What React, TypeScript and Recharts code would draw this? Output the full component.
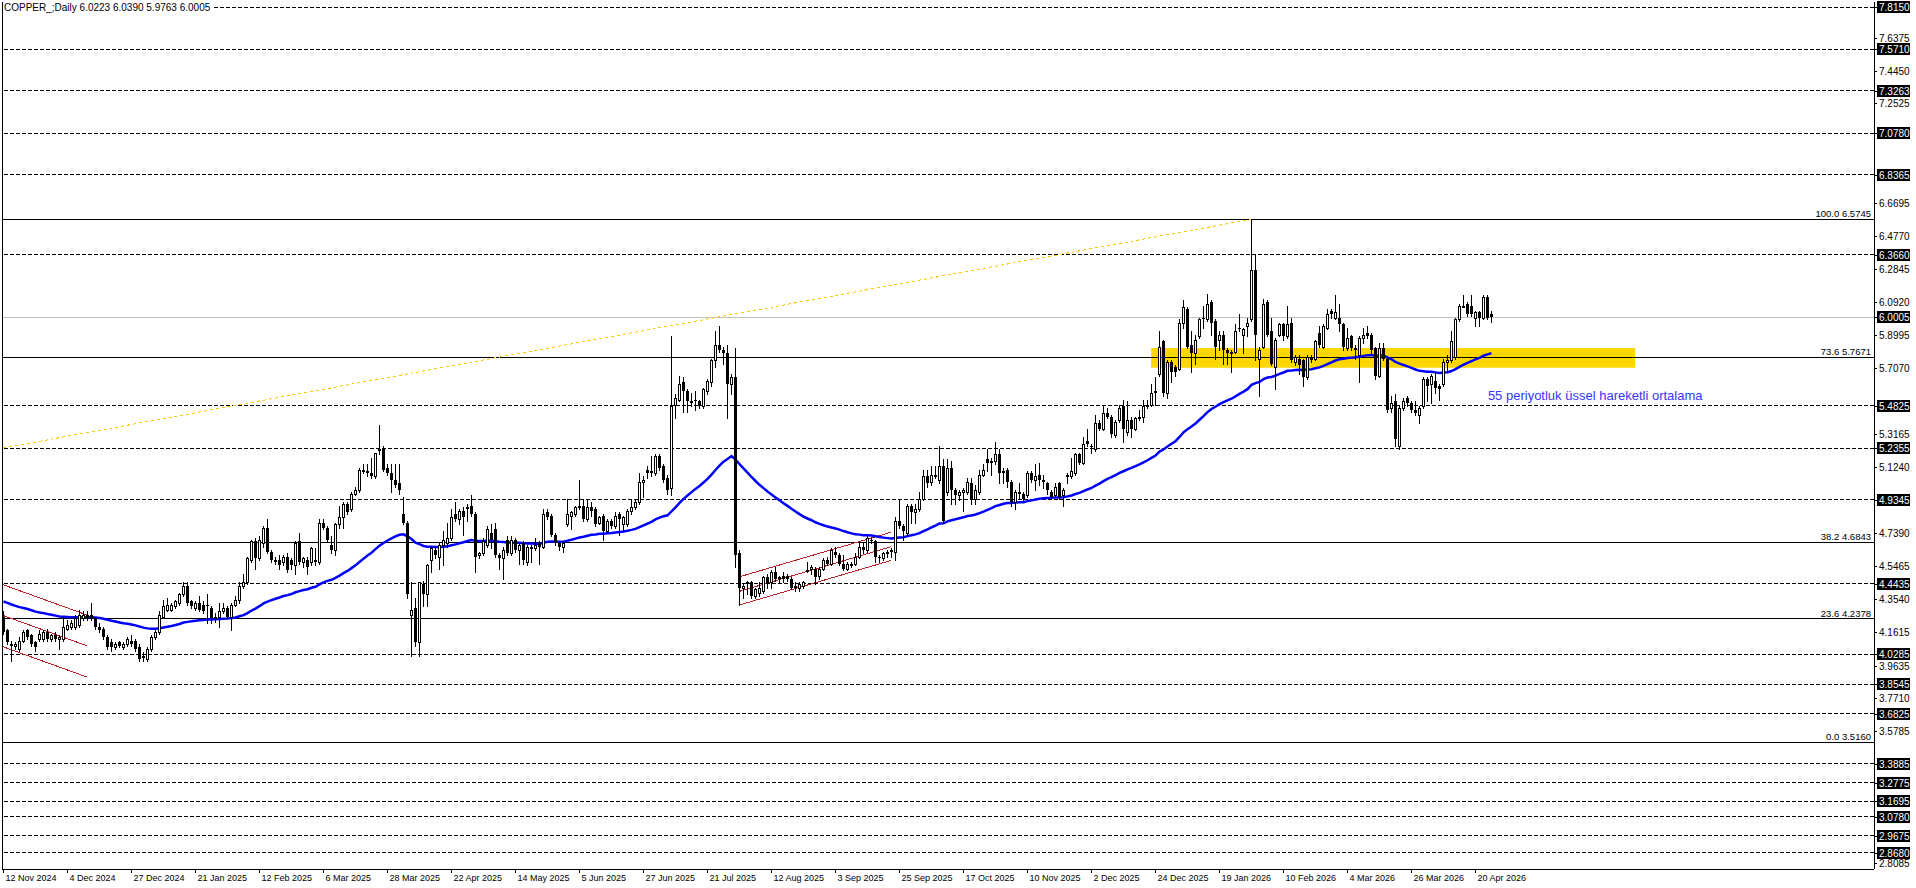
import React from 'react';
import {
  ComposedChart, XAxis, YAxis, Line, Scatter,
  ReferenceLine, ReferenceArea, ReferenceDot,
} from 'recharts';

// ---------- data ----------
const symbolName = 'COPPER_';
const timeframe = 'Daily';

const dateLabels = [
  '12 Nov 2024', '4 Dec 2024', '27 Dec 2024', '21 Jan 2025', '12 Feb 2025', '6 Mar 2025',
  '28 Mar 2025', '22 Apr 2025', '14 May 2025', '5 Jun 2025', '27 Jun 2025', '21 Jul 2025',
  '12 Aug 2025', '3 Sep 2025', '25 Sep 2025', '17 Oct 2025', '10 Nov 2025', '2 Dec 2025',
  '24 Dec 2025', '19 Jan 2026', '10 Feb 2026', '4 Mar 2026', '26 Mar 2026', '20 Apr 2026',
];
const dateTickBars = [0, 16, 32, 48, 64, 80, 96, 112, 128, 144, 160, 176, 192, 208, 224, 240, 256, 272, 288, 304, 320, 336, 352, 368];

type OHLC = [number, number, number, number];

// open, high, low, close
const ohlcNov24Feb25: OHLC[] = [
  [4.25,4.28,4.15,4.16],[4.17,4.18,4.09,4.10],[4.09,4.11,3.99,4.08],[4.08,4.10,4.06,4.09],
  [4.06,4.13,4.05,4.11],[4.11,4.17,4.10,4.16],[4.17,4.18,4.12,4.13],[4.14,4.15,4.08,4.09],
  [4.10,4.11,4.05,4.07],[4.12,4.17,4.11,4.15],[4.12,4.17,4.11,4.16],[4.16,4.18,4.11,4.12],
  [4.12,4.15,4.11,4.14],[4.14,4.16,4.11,4.12],[4.12,4.14,4.06,4.13],[4.12,4.25,4.11,4.19],
  [4.18,4.23,4.17,4.20],[4.19,4.23,4.18,4.21],[4.19,4.26,4.18,4.24],[4.20,4.29,4.19,4.26],
  [4.24,4.28,4.23,4.26],[4.26,4.28,4.23,4.24],[4.26,4.33,4.23,4.24],[4.24,4.25,4.18,4.19],
  [4.19,4.21,4.16,4.17],[4.18,4.19,4.12,4.13],[4.13,4.14,4.06,4.07],[4.10,4.12,4.05,4.07],
  [4.07,4.10,4.06,4.09],[4.10,4.11,4.07,4.08],[4.07,4.10,4.06,4.09],[4.09,4.13,4.08,4.12],
  [4.11,4.14,4.08,4.09],[4.11,4.12,4.05,4.06],[4.07,4.09,3.99,4.00],[4.02,4.04,3.99,4.02],
  [4.00,4.07,3.99,4.06],[4.06,4.14,4.05,4.13],[4.13,4.17,4.12,4.16],[4.16,4.28,4.15,4.26],
  [4.25,4.35,4.24,4.31],[4.29,4.36,4.28,4.32],[4.29,4.33,4.28,4.32],[4.31,4.35,4.30,4.34],
  [4.33,4.39,4.32,4.38],[4.38,4.45,4.37,4.43],[4.43,4.45,4.32,4.33],[4.34,4.35,4.30,4.31],
  [4.30,4.34,4.29,4.33],[4.33,4.37,4.28,4.29],[4.32,4.34,4.27,4.28],[4.32,4.38,4.21,4.31],
  [4.30,4.31,4.21,4.24],[4.25,4.27,4.22,4.25],[4.25,4.33,4.19,4.28],[4.28,4.33,4.27,4.30],
  [4.30,4.31,4.24,4.25],[4.25,4.33,4.17,4.32],[4.32,4.37,4.31,4.35],[4.35,4.45,4.33,4.43],
  [4.43,4.50,4.42,4.45],[4.45,4.60,4.44,4.59],[4.58,4.70,4.57,4.69],[4.69,4.71,4.53,4.59],
];
const ohlcFeb25May25: OHLC[] = [
  [4.59,4.72,4.58,4.70],[4.68,4.78,4.66,4.77],[4.77,4.82,4.62,4.63],[4.63,4.64,4.57,4.58],
  [4.58,4.60,4.56,4.57],[4.58,4.61,4.53,4.55],[4.57,4.61,4.55,4.60],[4.60,4.62,4.51,4.52],
  [4.58,4.59,4.53,4.55],[4.55,4.69,4.50,4.68],[4.69,4.74,4.56,4.57],[4.57,4.60,4.54,4.59],
  [4.58,4.60,4.50,4.54],[4.57,4.66,4.55,4.65],[4.58,4.65,4.55,4.58],[4.57,4.82,4.56,4.80],
  [4.80,4.82,4.76,4.77],[4.77,4.78,4.69,4.70],[4.67,4.72,4.62,4.64],[4.64,4.80,4.61,4.79],
  [4.79,4.90,4.77,4.83],[4.83,4.92,4.77,4.91],[4.91,4.92,4.85,4.86],[4.88,4.98,4.87,4.97],
  [4.97,5.01,4.96,4.99],[4.99,5.12,4.98,5.11],[5.10,5.14,5.09,5.11],[5.10,5.14,5.07,5.09],
  [5.09,5.18,5.06,5.07],[5.07,5.21,5.06,5.21],[5.23,5.37,5.20,5.22],[5.23,5.25,5.10,5.11],
  [5.12,5.14,5.08,5.09],[5.09,5.14,4.98,5.05],[5.05,5.14,5.01,5.02],[5.03,5.14,4.97,4.99],
  [4.85,4.95,4.79,4.80],[4.80,4.81,4.36,4.38],[4.26,4.45,4.02,4.29],[4.30,4.36,4.08,4.10],
  [4.10,4.45,4.02,4.45],[4.44,4.46,4.31,4.38],[4.38,4.56,4.31,4.55],[4.58,4.66,4.51,4.65],
  [4.64,4.66,4.59,4.61],[4.60,4.68,4.53,4.67],[4.67,4.75,4.55,4.70],[4.68,4.80,4.66,4.71],
  [4.71,4.88,4.70,4.83],[4.85,4.92,4.81,4.82],[4.82,4.88,4.79,4.87],[4.87,4.89,4.73,4.83],
  [4.89,4.91,4.81,4.89],[4.90,4.96,4.84,4.85],[4.85,4.86,4.51,4.60],[4.61,4.63,4.59,4.62],
  [4.62,4.71,4.61,4.69],[4.67,4.78,4.66,4.76],[4.74,4.79,4.65,4.70],[4.76,4.80,4.60,4.61],
  [4.61,4.62,4.53,4.59],[4.59,4.66,4.47,4.64],[4.70,4.72,4.61,4.62],[4.62,4.72,4.61,4.70],
];
const ohlcMay25Aug25: OHLC[] = [
  [4.70,4.71,4.63,4.64],[4.64,4.68,4.56,4.67],[4.68,4.69,4.56,4.58],[4.57,4.67,4.55,4.66],
  [4.65,4.67,4.57,4.66],[4.65,4.71,4.64,4.67],[4.68,4.69,4.56,4.66],[4.66,4.88,4.65,4.85],
  [4.86,4.88,4.82,4.83],[4.84,4.85,4.72,4.73],[4.73,4.74,4.67,4.68],[4.68,4.69,4.64,4.66],
  [4.66,4.69,4.63,4.68],[4.79,4.94,4.78,4.85],[4.84,4.87,4.76,4.86],[4.85,4.90,4.84,4.89],
  [4.89,5.05,4.88,4.90],[4.90,4.94,4.81,4.82],[4.82,4.93,4.81,4.89],[4.89,4.92,4.84,4.87],
  [4.88,4.89,4.78,4.79],[4.80,4.84,4.79,4.83],[4.84,4.85,4.70,4.75],[4.75,4.82,4.74,4.81],
  [4.81,4.82,4.77,4.78],[4.78,4.86,4.77,4.84],[4.85,4.86,4.73,4.82],[4.79,4.84,4.75,4.83],
  [4.79,4.88,4.78,4.87],[4.87,4.94,4.85,4.89],[4.89,4.94,4.88,4.92],[4.92,5.09,4.91,5.04],
  [5.04,5.07,4.95,5.05],[5.11,5.13,5.06,5.09],[5.10,5.19,5.07,5.09],[5.09,5.20,5.08,5.19],
  [5.19,5.20,5.11,5.12],[5.13,5.14,5.04,5.05],[5.06,5.08,4.97,4.99],[5.00,5.89,4.96,5.48],
  [5.49,5.55,5.41,5.53],[5.52,5.66,5.51,5.61],[5.62,5.65,5.45,5.57],[5.57,5.58,5.45,5.51],
  [5.51,5.56,5.48,5.51],[5.52,5.57,5.46,5.51],[5.51,5.52,5.47,5.48],[5.48,5.59,5.47,5.58],
  [5.57,5.64,5.55,5.63],[5.62,5.76,5.60,5.75],[5.75,5.92,5.71,5.84],[5.84,5.95,5.80,5.81],
  [5.81,5.83,5.73,5.79],[5.79,5.84,5.41,5.61],[5.61,5.67,5.55,5.65],[5.65,5.82,4.54,4.61],
  [4.62,4.64,4.32,4.42],[4.42,4.44,4.36,4.43],[4.45,4.46,4.38,4.44],[4.45,4.46,4.36,4.37],
  [4.37,4.42,4.36,4.41],[4.39,4.45,4.37,4.42],[4.40,4.49,4.39,4.48],[4.48,4.50,4.42,4.44],
];
const ohlcAug25Nov25: OHLC[] = [
  [4.45,4.52,4.42,4.51],[4.51,4.54,4.46,4.47],[4.48,4.49,4.45,4.47],[4.49,4.51,4.45,4.47],
  [4.49,4.50,4.46,4.47],[4.47,4.48,4.41,4.42],[4.43,4.45,4.40,4.43],[4.42,4.45,4.40,4.44],
  [4.43,4.46,4.42,4.45],[4.52,4.57,4.51,4.52],[4.53,4.55,4.50,4.54],[4.53,4.54,4.44,4.48],
  [4.49,4.54,4.47,4.53],[4.53,4.59,4.52,4.58],[4.58,4.60,4.55,4.56],[4.56,4.65,4.55,4.64],
  [4.63,4.66,4.60,4.61],[4.61,4.62,4.55,4.56],[4.56,4.61,4.52,4.53],[4.53,4.57,4.52,4.56],
  [4.56,4.57,4.54,4.56],[4.56,4.62,4.55,4.60],[4.60,4.68,4.59,4.66],[4.66,4.68,4.62,4.64],
  [4.64,4.72,4.63,4.71],[4.70,4.71,4.68,4.69],[4.69,4.70,4.57,4.60],[4.60,4.61,4.57,4.59],
  [4.59,4.63,4.58,4.62],[4.62,4.64,4.60,4.63],[4.64,4.65,4.60,4.64],[4.63,4.83,4.58,4.81],
  [4.81,4.93,4.77,4.78],[4.78,4.79,4.70,4.75],[4.74,4.91,4.73,4.90],[4.90,4.91,4.80,4.86],
  [4.86,4.91,4.80,4.88],[4.88,4.98,4.87,4.94],[4.94,5.11,4.93,5.07],[5.07,5.11,5.01,5.03],
  [5.04,5.13,5.02,5.08],[5.07,5.13,5.06,5.08],[5.05,5.25,5.03,5.13],[5.13,5.17,4.80,4.81],
  [4.98,5.17,4.96,5.12],[5.12,5.16,4.91,4.99],[4.99,5.00,4.91,4.96],[4.96,4.99,4.93,4.98],
  [4.98,5.00,4.87,4.99],[4.98,5.06,4.97,5.04],[5.03,5.06,4.91,4.94],[4.94,5.02,4.91,4.99],
  [4.98,5.11,4.97,5.08],[5.08,5.14,5.07,5.11],[5.17,5.23,5.10,5.15],[5.16,5.18,5.08,5.16],
  [5.16,5.27,5.14,5.20],[5.20,5.23,5.03,5.09],[5.10,5.12,5.03,5.09],[5.11,5.12,5.01,5.04],
  [5.04,5.05,4.90,4.92],[4.92,4.99,4.88,4.98],[4.98,5.03,4.94,4.97],[4.97,4.98,4.93,4.94],
];
const ohlcNov25Feb26: OHLC[] = [
  [4.96,5.10,4.95,5.09],[5.09,5.10,5.04,5.05],[5.05,5.14,4.99,5.07],[5.08,5.15,5.02,5.05],
  [5.05,5.08,5.00,5.04],[5.03,5.04,4.97,4.99],[4.98,4.99,4.94,4.95],[4.96,5.03,4.95,5.01],
  [5.03,5.04,4.94,4.95],[4.96,5.00,4.90,4.99],[5.08,5.09,5.03,5.08],[5.07,5.18,5.06,5.10],
  [5.09,5.21,5.08,5.20],[5.20,5.21,5.14,5.15],[5.15,5.30,5.14,5.26],[5.28,5.35,5.25,5.26],
  [5.25,5.26,5.21,5.24],[5.23,5.43,5.22,5.38],[5.38,5.40,5.34,5.35],[5.35,5.48,5.34,5.44],
  [5.44,5.47,5.41,5.42],[5.42,5.43,5.30,5.32],[5.31,5.40,5.30,5.39],[5.40,5.49,5.39,5.47],
  [5.48,5.52,5.27,5.35],[5.33,5.51,5.31,5.40],[5.40,5.42,5.30,5.35],[5.35,5.42,5.34,5.41],
  [5.41,5.46,5.40,5.42],[5.42,5.52,5.39,5.48],[5.48,5.52,5.47,5.49],[5.49,5.61,5.48,5.56],
  [5.57,5.65,5.49,5.56],[5.67,5.92,5.66,5.83],[5.86,5.87,5.54,5.56],[5.56,5.75,5.53,5.74],
  [5.74,5.75,5.62,5.68],[5.71,5.72,5.66,5.68],[5.70,5.99,5.69,5.97],[5.97,6.10,5.94,6.06],
  [6.05,6.06,5.82,5.83],[5.84,5.92,5.68,5.79],[5.79,5.90,5.73,5.87],[5.89,6.00,5.88,5.99],
  [6.00,6.07,5.94,5.99],[5.99,6.14,5.98,6.08],[6.09,6.10,5.90,5.97],[5.98,5.99,5.76,5.83],
  [5.87,5.92,5.81,5.90],[5.90,5.92,5.73,5.81],[5.81,5.82,5.73,5.79],[5.80,5.81,5.68,5.80],
  [5.80,5.96,5.79,5.92],[5.94,6.02,5.92,5.93],[5.90,5.94,5.79,5.93],[5.95,6.00,5.89,5.97],
  [5.99,6.5745,5.98,6.28],[6.28,6.37,5.75,5.90],[5.76,5.83,5.54,5.81],[5.83,6.11,5.82,6.08],
  [6.09,6.10,5.89,5.90],[5.92,6.00,5.72,5.73],[5.71,5.88,5.58,5.87],[5.90,5.97,5.89,5.96],
];
const ohlcFeb26Apr26: OHLC[] = [
  [5.96,5.97,5.87,5.89],[5.89,6.07,5.88,5.96],[5.97,6.00,5.74,5.75],[5.74,5.78,5.72,5.77],
  [5.76,5.78,5.67,5.72],[5.75,5.76,5.60,5.65],[5.65,5.78,5.64,5.77],[5.77,5.78,5.74,5.75],
  [5.76,5.87,5.75,5.86],[5.91,5.95,5.83,5.84],[5.83,5.96,5.82,5.95],[5.94,6.05,5.93,6.02],
  [6.04,6.05,6.00,6.02],[6.00,6.13,5.99,6.03],[6.00,6.08,5.92,5.96],[5.96,5.97,5.81,5.83],
  [5.82,5.94,5.81,5.88],[5.89,5.90,5.81,5.82],[5.82,5.84,5.76,5.82],[5.78,5.89,5.62,5.88],
  [5.88,5.94,5.85,5.90],[5.91,5.95,5.88,5.89],[5.90,5.91,5.79,5.81],[5.82,5.83,5.64,5.66],
  [5.66,5.85,5.65,5.82],[5.82,5.85,5.75,5.76],[5.76,5.77,5.45,5.46],[5.47,5.54,5.45,5.50],
  [5.51,5.55,5.25,5.29],[5.25,5.48,5.23,5.47],[5.47,5.53,5.46,5.51],[5.53,5.54,5.48,5.50],
  [5.50,5.51,5.45,5.46],[5.46,5.51,5.43,5.44],[5.43,5.48,5.38,5.47],[5.48,5.65,5.47,5.64],
  [5.64,5.65,5.51,5.60],[5.61,5.67,5.50,5.66],[5.63,5.68,5.56,5.59],[5.60,5.61,5.52,5.58],
  [5.61,5.76,5.60,5.74],[5.74,5.78,5.68,5.75],[5.75,5.92,5.74,5.86],[5.77,6.00,5.76,5.99],
  [5.99,6.08,5.98,6.07],[6.07,6.13,6.06,6.07],[6.08,6.09,6.01,6.02],[6.07,6.13,6.01,6.02],
  [6.00,6.04,5.95,6.03],[6.03,6.04,5.95,6.00],[6.00,6.13,5.99,6.12],[6.12,6.13,5.99,6.00],
  [6.0223,6.0390,5.9763,6.0005],
];

// price axis (plain labels)
const axisPrices = [7.6375, 7.4450, 7.2525, 6.6695, 6.4770, 6.2845, 6.0920, 5.8995, 5.7070,
  5.3165, 5.1240, 4.7390, 4.5465, 4.3540, 4.1615, 3.9635, 3.7710, 3.5785, 2.8085];
// horizontal (dashed) levels, labelled on the axis
const levelPrices = [7.8150, 7.5710, 7.3263, 7.0780, 6.8365, 6.3660, 5.4825, 5.2355, 4.9345, 4.4435,
  4.0285, 3.8545, 3.6825, 3.3885, 3.2775, 3.1695, 3.0780, 2.9675, 2.8680];
const bidPrice = 6.0005;

// fibonacci retracement
const fibRatios = ['100.0', '73.6', '38.2', '23.6', '0.0'];
const fibPrices = [6.5745, 5.7671, 4.6843, 4.2378, 3.5160];
const fibTrendBars = [-3, 312];
const fibTrendPrices = [5.2242, 6.5745];

// yellow zone
const zoneBars = [286.9, 407.9];
const zonePrices = [5.7063, 5.8216];

// channels: start/end bar and price
const downChannelBars = [-3, 20.8];
const downChannelUpper = [4.461, 4.26];
const downChannelMiddle = [4.281, 4.08];
const downChannelLower = [4.098, 3.897];
const upChannelBars = [184, 221.8];
const upChannelUpper = [4.483, 4.743];
const upChannelMiddle = [4.398, 4.658];
const upChannelLower = [4.318, 4.578];

// moving average
const emaPeriod = 55;
const emaStart = 4.345;
const emaNote = '55 periyotluk üssel hareketli ortalama';
const emaNoteBar = 371.1;
const emaNotePrice = 5.52;

// ---------- layout ----------
const W = 1916;
const H = 888;
const PLOT_L = 2;
const PLOT_T = 2;
const AXIS_W = 42;
const XAXIS_H = 19;
const PLOT_R = W - AXIS_W;
const PLOT_B = H - XAXIS_H;
const Y_MIN = 2.7732;
const Y_MAX = 7.846;
const X_MIN = -0.375;
const X_MAX = 467.625;
const PPU = (PLOT_B - PLOT_T) / (Y_MAX - Y_MIN);
const FONT = '"Liberation Sans", Arial, sans-serif';

const bars = [
  ...ohlcNov24Feb25, ...ohlcFeb25May25, ...ohlcMay25Aug25,
  ...ohlcAug25Nov25, ...ohlcNov25Feb26, ...ohlcFeb26Apr26,
].map(([o, h, l, c], i) => ({ i, o, h, l, c, ema: 0 }));

{
  const k = 2 / (emaPeriod + 1);
  let prev = emaStart;
  bars.forEach((b) => {
    prev = prev + (b.c - prev) * k;
    b.ema = prev;
  });
}

const last = bars[bars.length - 1];
const titleText = `${symbolName};${timeframe} ${last.o.toFixed(4)} ${last.h.toFixed(4)} ${last.l.toFixed(4)} ${last.c.toFixed(4)}`;

const Candle = (props: any) => {
  const { cx, cy, payload } = props;
  if (cx == null || cy == null) return null;
  const px = Math.floor(cx) + 0.5;
  const toY = (v: number) => cy + (payload.h - v) * PPU;
  const yHigh = Math.round(cy);
  const yLow = Math.round(toY(payload.l));
  const top = Math.round(toY(Math.max(payload.o, payload.c)));
  const bot = Math.round(toY(Math.min(payload.o, payload.c)));
  const up = payload.c >= payload.o;
  return (
    <g>
      <line x1={px} x2={px} y1={yHigh} y2={yLow + 1} stroke="#000" strokeWidth={1} />
      {up ? (
        <rect x={px - 1} y={top + 0.5} width={2} height={Math.max(bot - top, 1)} fill="#fff" stroke="#000" strokeWidth={1} />
      ) : (
        <rect x={px - 1.5} y={top} width={3} height={Math.max(bot - top, 1)} fill="#000" />
      )}
    </g>
  );
};

const DateTick = (props: any) => {
  const { x, payload } = props;
  const idx = dateTickBars.indexOf(payload.value);
  const tx = Math.floor(x) + 0.5;
  return (
    <g>
      <line x1={tx} x2={tx} y1={PLOT_B} y2={PLOT_B + 4} stroke="#000" />
      <text x={tx + 2} y={PLOT_B + 12} fontSize={9} fontFamily={FONT} fill="#000">{dateLabels[idx]}</text>
    </g>
  );
};

const PriceTick = (props: any) => {
  const { y, payload } = props;
  const v = payload.value as number;
  const yy = Math.round(y);
  const boxed = levelPrices.includes(v) || v === bidPrice;
  return (
    <g>
      <line x1={PLOT_R} x2={PLOT_R + 3} y1={yy + 0.5} y2={yy + 0.5} stroke="#000" />
      {boxed && <rect x={PLOT_R + 3} y={yy - 6} width={33} height={12} fill="#000" />}
      <text x={PLOT_R + 5} y={yy + 4} fontSize={10} fontFamily={FONT} fill={boxed ? '#fff' : '#000'}>
        {v.toFixed(4)}
      </text>
    </g>
  );
};

const fibLabel = (text: string) => (props: any) => {
  const vb = props.viewBox || {};
  return (
    <text x={(vb.x || 0) + (vb.width || 0) - 3} y={(vb.y || 0) - 2} textAnchor="end" fontSize={9.5} fontFamily={FONT} fill="#000">
      {text}
    </text>
  );
};

const noteLabel = (props: any) => {
  const vb = props.viewBox || {};
  return (
    <text x={vb.x || 0} y={vb.y || 0} fontSize={13} fontFamily={FONT} fill="#3535ff">{emaNote}</text>
  );
};

const seg = (xs: number[], ys: number[]) => [{ x: xs[0], y: ys[0] }, { x: xs[1], y: ys[1] }];

const CHANNEL_RED = '#b8242a';

export default function App() {
  return (
    <div style={{ position: 'absolute', left: 0, top: 0, width: W, height: H, background: '#fff', overflow: 'hidden' }}>
      <ComposedChart
        width={W}
        height={H}
        data={bars}
        margin={{ top: PLOT_T, right: 0, bottom: 0, left: PLOT_L }}
      >
        <XAxis
          dataKey="i"
          type="number"
          domain={[X_MIN, X_MAX]}
          allowDataOverflow
          ticks={dateTickBars}
          interval={0}
          height={XAXIS_H}
          tick={<DateTick />}
          tickLine={false}
          axisLine={{ stroke: '#000', shapeRendering: 'crispEdges' }}
        />
        <YAxis
          orientation="right"
          type="number"
          domain={[Y_MIN, Y_MAX]}
          allowDataOverflow
          ticks={[...axisPrices, ...levelPrices, bidPrice]}
          interval={0}
          width={AXIS_W}
          tick={<PriceTick />}
          tickLine={false}
          axisLine={{ stroke: '#000', shapeRendering: 'crispEdges' }}
        />

        <ReferenceArea
          x1={zoneBars[0]} x2={zoneBars[1]} y1={zonePrices[0]} y2={zonePrices[1]}
          fill="#FFD700" fillOpacity={1} stroke="none" ifOverflow="hidden"
        />

        {levelPrices.map((p) => (
          <ReferenceLine key={`lv${p}`} y={p} stroke="#000" strokeDasharray="4 2" shapeRendering="crispEdges" ifOverflow="hidden" />
        ))}
        <ReferenceLine y={bidPrice} stroke="#c0c0c0" shapeRendering="crispEdges" ifOverflow="hidden" />
        {fibPrices.map((p, k) => (
          <ReferenceLine key={`fb${p}`} y={p} stroke="#000" shapeRendering="crispEdges" ifOverflow="hidden"
            label={fibLabel(`${fibRatios[k]} ${p.toFixed(4)}`)} />
        ))}

        <ReferenceLine segment={seg(fibTrendBars, fibTrendPrices)} stroke="#FFC800" strokeDasharray="3 3" shapeRendering="crispEdges" ifOverflow="hidden" />

        <ReferenceLine segment={seg(downChannelBars, downChannelUpper)} stroke={CHANNEL_RED} shapeRendering="crispEdges" ifOverflow="hidden" />
        <ReferenceLine segment={seg(downChannelBars, downChannelMiddle)} stroke={CHANNEL_RED} shapeRendering="crispEdges" ifOverflow="hidden" />
        <ReferenceLine segment={seg(downChannelBars, downChannelLower)} stroke={CHANNEL_RED} shapeRendering="crispEdges" ifOverflow="hidden" />
        <ReferenceLine segment={seg(upChannelBars, upChannelUpper)} stroke={CHANNEL_RED} shapeRendering="crispEdges" ifOverflow="hidden" />
        <ReferenceLine segment={seg(upChannelBars, upChannelMiddle)} stroke={CHANNEL_RED} shapeRendering="crispEdges" ifOverflow="hidden" />
        <ReferenceLine segment={seg(upChannelBars, upChannelLower)} stroke={CHANNEL_RED} shapeRendering="crispEdges" ifOverflow="hidden" />

        <Scatter dataKey="h" shape={Candle} isAnimationActive={false} />
        <Line type="linear" dataKey="ema" stroke="#0000ff" strokeWidth={2.5} dot={false} activeDot={false} isAnimationActive={false} />

        <ReferenceDot x={emaNoteBar} y={emaNotePrice} r={0} fill="none" stroke="none" label={noteLabel} />
      </ComposedChart>

      <div style={{ position: 'absolute', left: PLOT_L, top: PLOT_T, width: 1, height: PLOT_B - PLOT_T, background: '#000' }} />
      <div
        style={{
          position: 'absolute', left: 4, top: 2, background: '#fff', fontFamily: FONT,
          fontSize: 10, lineHeight: '11px', color: '#000', paddingRight: 2, whiteSpace: 'nowrap',
        }}
      >
        {titleText}
      </div>
    </div>
  );
}
